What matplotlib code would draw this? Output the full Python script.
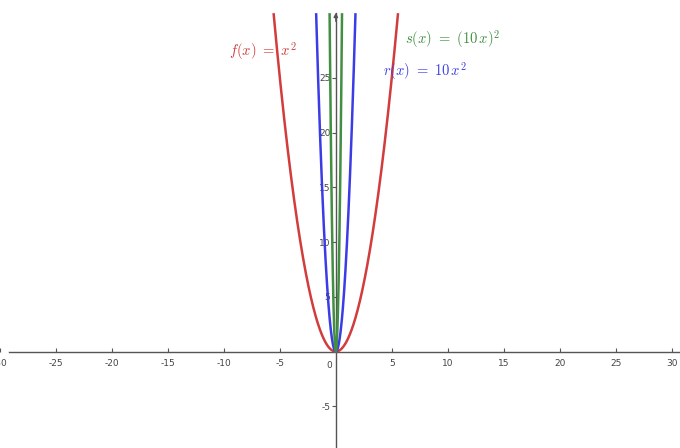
import numpy as np
import matplotlib
matplotlib.use("Agg")
import matplotlib.pyplot as plt

# functions plotted: y = coef * x^2
names = ["f", "r", "s"]
coefs = [1.0, 10.0, 100.0]
labels = [r"$f(x)\ =\ x^2$", r"$r(x)\ =\ 10\,x^2$", r"$s(x)\ =\ (10\,x)^2$"]
colors = ["#d23c3c", "#3c3ce6", "#428f42"]

x_ticks = [-30, -25, -20, -15, -10, -5, 5, 10, 15, 20, 25, 30]
y_ticks = [-5, 5, 10, 15, 20, 25]

xmin, xmax = -29.95, 30.75
ymin, ymax = -8.8, 32.1
ytop = 30.9  # curves and y-axis stop here

plt.rcParams["mathtext.fontset"] = "cm"
fig = plt.figure(figsize=(6.8, 4.48), dpi=100)
ax = fig.add_axes([0, 0, 1, 1])
ax.set_xlim(xmin, xmax)
ax.set_ylim(ymin, ymax)

# curves
for c, col in zip(coefs, colors):
    xe = np.sqrt(ytop / c)
    xs = np.linspace(-xe, xe, 600)
    ax.plot(xs, c * xs**2, color=col, lw=1.8, zorder=3, solid_capstyle="butt")

# axes through origin
for side in ["top", "right"]:
    ax.spines[side].set_visible(False)
ax.spines["left"].set_position(("data", 0))
ax.spines["bottom"].set_position(("data", 0))
ax.spines["left"].set_bounds(ymin, ytop)
ax.spines["bottom"].set_bounds(-29.2, xmax)
for side in ["left", "bottom"]:
    ax.spines[side].set_color("#555555")
    ax.spines[side].set_linewidth(1.0)
ax.annotate("", xy=(0, ytop + 0.3), xytext=(0, ytop - 1.0),
            arrowprops=dict(arrowstyle="-|>", color="#555555", lw=1.0,
                            mutation_scale=6))

ax.set_xticks(x_ticks)
ax.set_xticklabels([str(t) for t in x_ticks])
ax.set_yticks(y_ticks)
ax.set_yticklabels([str(t) for t in y_ticks])
ax.tick_params(axis="x", direction="in", length=3, width=0.8, colors="#555555",
               labelsize=6.5, labelcolor="#444444", pad=5)
ax.tick_params(axis="y", direction="out", length=3, width=0.8, colors="#555555",
               labelsize=6.5, labelcolor="#444444", pad=1)
ax.text(-0.55, -0.9, "0", fontsize=6.5, color="#444444", ha="center", va="top")

# function labels
ax.text(-9.5, 27.4, labels[0], color=colors[0], fontsize=10.5, va="center")
ax.text(4.2, 25.6, labels[1], color=colors[1], fontsize=10.5, va="center")
ax.text(6.2, 28.5, labels[2], color=colors[2], fontsize=10.5, va="center")

fig.savefig("out.png", dpi=100)
